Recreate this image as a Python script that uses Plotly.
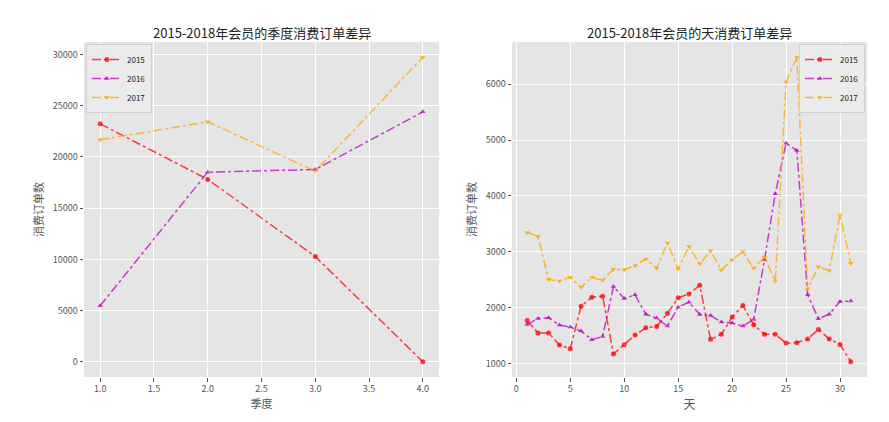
import plotly.graph_objects as go

# ---- data ----
quarters = [1, 2, 3, 4]
q2015 = [23240, 17810, 10270, 0]
q2016 = [5460, 18520, 18780, 24410]
q2017 = [21680, 23430, 18620, 29740]

days = list(range(1, 32))
d2015 = [1772, 1547, 1547, 1333, 1267, 2028, 2188, 2206, 1172, 1339,
         1511, 1641, 1665, 1897, 2176, 2247, 2402, 1434, 1523, 1832,
         2040, 1695, 1523, 1523, 1368, 1374, 1440, 1612, 1440, 1343, 1035]
d2016 = [1701, 1808, 1820, 1689, 1653, 1582, 1428, 1487, 2378, 2164,
         2230, 1885, 1814, 1671, 2010, 2099, 1879, 1861, 1743, 1725,
         1671, 1790, 2859, 4041, 4944, 4813, 2230, 1802, 1885, 2110, 2118]
d2017 = [3346, 3281, 2503, 2479, 2544, 2366, 2544, 2491, 2687, 2681,
         2752, 2871, 2705, 3156, 2693, 3097, 2782, 3020, 2675, 2859,
         3002, 2705, 2901, 2479, 6037, 6483, 2337, 2734, 2663, 3657, 2797]

names = ["2015", "2016", "2017"]
colors = ["rgba(255,0,0,0.75)", "rgba(191,0,191,0.75)", "rgba(255,165,0,0.75)"]
symbols = ["circle", "triangle-up", "triangle-down"]

W, H = 889, 422
def px_x(p): return p / W
def px_y(p): return 1 - p / H

fig = go.Figure()

for name, ys, col, sym in zip(names, [q2015, q2016, q2017], colors, symbols):
    fig.add_trace(go.Scatter(x=quarters, y=ys, name=name, mode="lines+markers",
                             line=dict(color=col, width=1.5, dash="dashdot"),
                             marker=dict(symbol=sym, size=5, color=col),
                             xaxis="x", yaxis="y", legend="legend"))
for name, ys, col, sym in zip(names, [d2015, d2016, d2017], colors, symbols):
    fig.add_trace(go.Scatter(x=days, y=ys, name=name, mode="lines+markers",
                             line=dict(color=col, width=1.5, dash="dashdot"),
                             marker=dict(symbol=sym, size=5, color=col),
                             xaxis="x2", yaxis="y2", legend="legend2"))

font_family = "Noto Sans CJK SC, DejaVu Sans, sans-serif"
axis_common = dict(showgrid=True, gridcolor="white", gridwidth=1, zeroline=False,
                   ticks="outside", ticklen=3.5, tickcolor="#555555",
                   tickfont=dict(size=9, color="#555555", family=font_family),
                   showline=False)

ydom = [px_y(377), px_y(42)]
fig.update_layout(
    width=W, height=H, margin=dict(l=0, r=0, t=0, b=0),
    paper_bgcolor="white", plot_bgcolor="#E5E5E5",
    font=dict(family=font_family, color="#555555"),
    xaxis=dict(domain=[px_x(84), px_x(439)], range=[0.85, 4.15], dtick=0.5,
               tickformat=".1f", anchor="y",
               title=dict(text="季度", font=dict(size=11, color="#555555"), standoff=6),
               **axis_common),
    yaxis=dict(domain=ydom, range=[-1490, 31230], dtick=5000, tickformat="d",
               anchor="x",
               title=dict(text="消费订单数", font=dict(size=11, color="#555555"), standoff=6),
               **axis_common),
    xaxis2=dict(domain=[px_x(512), px_x(867)], range=[-0.4, 32.5], dtick=5,
                anchor="y2",
                title=dict(text="天", font=dict(size=12, color="#555555"), standoff=6),
                **axis_common),
    yaxis2=dict(domain=ydom, range=[760, 6755], dtick=1000, tickformat="d",
                anchor="x2",
                title=dict(text="消费订单数", font=dict(size=11, color="#555555"), standoff=6),
                **axis_common),
    legend=dict(x=px_x(86), y=px_y(44), xanchor="left", yanchor="top",
                bgcolor="rgba(235,235,235,0.9)", bordercolor="#D0D0D0", borderwidth=1,
                font=dict(size=8, color="#222222"), itemwidth=30, tracegroupgap=0),
    legend2=dict(x=px_x(865), y=px_y(44), xanchor="right", yanchor="top",
                 bgcolor="rgba(235,235,235,0.9)", bordercolor="#D0D0D0", borderwidth=1,
                 font=dict(size=8, color="#222222"), itemwidth=30, tracegroupgap=0),
    annotations=[
        dict(text="2015-2018年会员的季度消费订单差异", x=px_x(261.5), y=px_y(32),
             xref="paper", yref="paper", showarrow=False, xanchor="center", yanchor="middle",
             font=dict(size=13, color="#222222", family=font_family)),
        dict(text="2015-2018年会员的天消费订单差异", x=px_x(689.5), y=px_y(32),
             xref="paper", yref="paper", showarrow=False, xanchor="center", yanchor="middle",
             font=dict(size=13, color="#222222", family=font_family)),
    ],
)

fig.write_html("out.html")
